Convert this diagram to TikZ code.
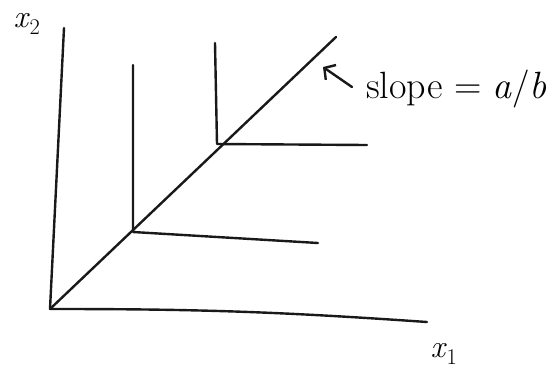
\documentclass[tikz,border=0pt]{standalone}
\usepackage{amsmath,amssymb}
\usepackage{xcolor}
\usepackage{tikz}
\usetikzlibrary{arrows.meta,calc}
\tikzset{
  ink/.style={line width=2.4pt,line cap=round,line join=round,black!90},
  axis/.style={ink},
  kinked/.style={ink},
  pointer/.style={ink,-{Straight Barb[length=8pt,width=18pt,line width=2.4pt]}},
  lbl/.style={inner sep=0pt,font=\fontsize{32}{36}\selectfont},
  note/.style={inner sep=0pt,font=\fontsize{38}{44}\selectfont},
}

\begin{document}
\begin{tikzpicture}[x=1pt,y=-1pt]
\useasboundingbox (0,0) rectangle (555,368);

% Axes
\coordinate (o)    at (50,309);
\coordinate (ytop) at (64,28);
\coordinate (xend) at (427,322);
\node[lbl] (xtwo) at (27,24)  {\textit{x}\textsubscript{2}};
\node[lbl] (xone) at (444,354) {\textit{x}\textsubscript{1}};

% Ray through the kinks
\coordinate (rend) at (336,37);

% Kinks of the two curves
\coordinate (k1) at (133,232);
\coordinate (v1) at (133,65);
\coordinate (h1) at (318,243);
\coordinate (k2) at (217,144);
\coordinate (v2) at (215,43);
\coordinate (h2) at (367,145);

% Note on the ray
\node[note,anchor=base west] (slope) at (366,98) {slope = \textit{a}/\textit{b}};
\coordinate (atail) at (352,87);
\coordinate (atip)  at (323,67);

\draw[axis] (ytop) -- (o) to[bend left=2] (xend);
\draw[ink] (o) -- (rend);
\foreach \k/\v/\h in {k1/v1/h1,k2/v2/h2}
  \draw[kinked] (\v) -- (\k) -- (\h);
\draw[pointer] (atail) -- (atip);

\end{tikzpicture}
\end{document}
